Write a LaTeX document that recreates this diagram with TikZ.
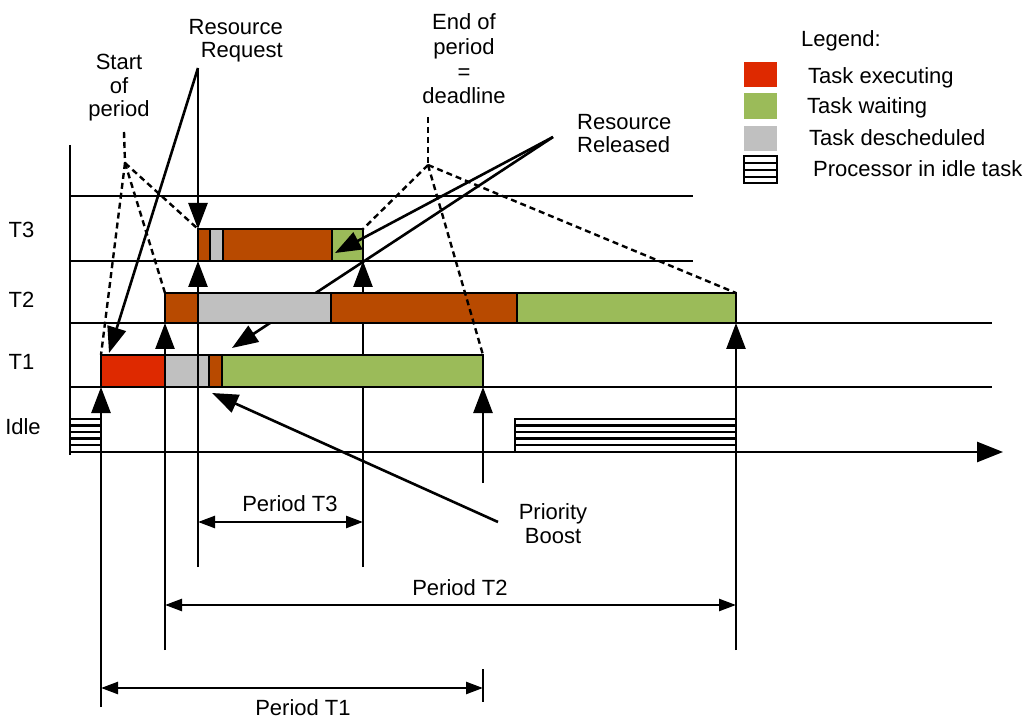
\documentclass[tikz,border=0pt]{standalone}
\usepackage{fontspec}
\setmainfont{Liberation Sans}
\usetikzlibrary{arrows.meta}

\definecolor{execc}{RGB}{222,41,0}
\definecolor{heldc}{RGB}{184,74,0}
\definecolor{waitc}{RGB}{155,187,89}
\definecolor{deschc}{RGB}{192,192,192}

\tikzset{
  lbl/.style={inner sep=0pt, font=\fontsize{22}{24}\selectfont},
  gridline/.style={line width=2.6pt},
  bigarrow/.style={line width=2.6pt, -{Triangle[length=26pt,width=19pt]}},
  dimarrow/.style={line width=2.4pt, {Triangle[length=17pt,width=12pt]}-{Triangle[length=17pt,width=12pt]}},
  guide/.style={line width=2.4pt, dash pattern=on 6pt off 4pt},
  seg/.style={draw=black, line width=2.4pt},
  hatchline/.style={line width=2.2pt},
}

\begin{document}
\begin{tikzpicture}[x=1pt,y=-1pt]
\useasboundingbox (0,0) rectangle (1026,719);

% ---------- time grid ----------
\coordinate (axtop) at (70,145);
\coordinate (axbot) at (70,455);
\coordinate (axO) at (70,452);
\coordinate (axEnd) at (1003,452);
\draw[gridline] (axtop) -- (axbot);
\foreach \yy/\xe in {196/693,261/693,323/992,387/992}
  \draw[gridline] (70,\yy) coordinate (gl\yy) -- (\xe,\yy) coordinate (gr\yy);
\draw[gridline, -{Triangle[length=26pt,width=20pt]}] (axO) -- (axEnd);

% row labels
\node[lbl, anchor=base] (lT3) at (21.5,238) {T3};
\node[lbl, anchor=base] (lT2) at (21.5,308) {T2};
\node[lbl, anchor=base] (lT1) at (21.5,370) {T1};
\node[lbl, anchor=base] (lIdle) at (23,434) {Idle};

% ---------- idle task periods ----------
\draw[seg, fill=white] (70,419) rectangle (101,452);
\foreach \yy in {425.5,432,438.5,445} \draw[hatchline] (70,\yy) -- (101,\yy);
\draw[seg, fill=white] (515,419) rectangle (736,452);
\foreach \yy in {425.5,432,438.5,445} \draw[hatchline] (515,\yy) -- (736,\yy);

% ---------- period markers (release / deadline) ----------
\coordinate (s1b) at (101,707); \coordinate (s1t) at (101,387);
\coordinate (s2b) at (165,650); \coordinate (s2t) at (165,323);
\coordinate (s3b) at (198,567); \coordinate (s3t) at (198,261);
\coordinate (e3b) at (363,567); \coordinate (e3t) at (363,261);
\coordinate (e1b) at (483,483); \coordinate (e1t) at (483,387);
\coordinate (e2b) at (736,650); \coordinate (e2t) at (736,323);
\foreach \a/\b in {s1b/s1t,s2b/s2t,s3b/s3t,e3b/e3t,e1b/e1t,e2b/e2t}
  \draw[bigarrow] (\a) -- (\b);

% resource released (lower arrow runs behind T2)
\coordinate (rr) at (553,137);
\coordinate (rrT1) at (232,348);
\draw[bigarrow] (rr) -- (rrT1);

% ---------- task bars ----------
% T3
\draw[seg, fill=heldc]  (198,229) rectangle (210,261);
\draw[seg, fill=deschc] (210,229) rectangle (223,261);
\draw[seg, fill=heldc]  (223,229) rectangle (332,261);
\draw[seg, fill=waitc]  (332,229) rectangle (363,261);
% T2
\draw[seg, fill=heldc]  (165,293) rectangle (198,323);
\draw[seg, fill=deschc] (198,293) rectangle (331,323);
\draw[seg, fill=heldc]  (331,293) rectangle (517,323);
\draw[seg, fill=waitc]  (517,293) rectangle (736,323);
% T1
\draw[seg, fill=execc]  (101,355) rectangle (165,387);
\draw[seg, fill=deschc] (165,355) rectangle (198,387);
\draw[seg, fill=deschc] (198,355) rectangle (209,387);
\draw[seg, fill=heldc]  (209,355) rectangle (222,387);
\draw[seg, fill=waitc]  (222,355) rectangle (483,387);

% ---------- dashed guides ----------
\coordinate (spTop) at (124,132);
\coordinate (spJ) at (125,163);
\draw[guide] (spTop) -- (spJ);
\draw[guide] (spJ) -- (198,229);
\draw[guide] (spJ) -- (165,293);
\draw[guide] (spJ) -- (101,355);
\coordinate (epTop) at (428,117);
\coordinate (epJ) at (428,165);
\draw[guide] (epTop) -- (epJ);
\draw[guide] (epJ) -- (363,229);
\draw[guide] (epJ) -- (483,355);
\draw[guide] (epJ) -- (736,293);

% ---------- annotation arrows ----------
\coordinate (rq) at (198,68);
\coordinate (rqT3) at (198,229);
\coordinate (rqT1) at (109,353);
\draw[bigarrow] (rq) -- (rqT3);
\draw[bigarrow] (rq) -- (rqT1);
\coordinate (rrT3) at (335,253);
\draw[bigarrow] (rr) -- (rrT3);
\coordinate (pb) at (498,522);
\coordinate (pbT1) at (212,393);
\draw[bigarrow] (pb) -- (pbT1);

% ---------- period dimensions ----------
\draw[dimarrow] (198,522) coordinate (p3a) -- (363,522) coordinate (p3b);
\draw[dimarrow] (165,605) coordinate (p2a) -- (736,605) coordinate (p2b);
\draw[dimarrow] (101,688) coordinate (p1a) -- (483,688) coordinate (p1b);
\draw[gridline] (483,669) coordinate (tk1) -- (483,702) coordinate (tk2);
\node[lbl, anchor=base] (nP3) at (290,511) {Period T3};
\node[lbl, anchor=base] (nP2) at (460,595) {Period T2};
\node[lbl, anchor=base] (nP1) at (303,715) {Period T1};

% ---------- annotation texts (anchored at the last line's baseline) ----------
\node[lbl, anchor=base, align=center, font=\fontsize{22}{23.5}\selectfont] (nStart) at (119,117) {Start\\of\\period};
\node[lbl, anchor=base east, align=right, font=\fontsize{22}{23}\selectfont] (nReq) at (283,58) {Resource\\Request};
\node[lbl, anchor=base, align=center, font=\fontsize{22}{24.7}\selectfont] (nEnd) at (464,104) {End of\\period\\=\\deadline};
\node[lbl, anchor=base west, align=left, font=\fontsize{22}{23}\selectfont] (nRel) at (577,153) {Resource\\Released};
\node[lbl, anchor=base, align=center, font=\fontsize{22}{24}\selectfont] (nBoost) at (553,543) {Priority\\Boost};

% ---------- legend ----------
\node[lbl, anchor=base] (lgTitle) at (841,47) {Legend:};
\fill[execc]  (744,62) rectangle (777,87);
\fill[waitc]  (744,93) rectangle (777,119);
\fill[deschc] (744,126) rectangle (777,151);
\draw[seg, fill=white] (744,156) rectangle (777,183);
\foreach \yy in {163,170,177} \draw[hatchline] (744,\yy) -- (777,\yy);
\node[lbl, anchor=base west] (lgExec) at (808,84) {Task executing};
\node[lbl, anchor=base west] (lgWait) at (807,114) {Task waiting};
\node[lbl, anchor=base west] (lgDesc) at (809,146) {Task descheduled};
\node[lbl, anchor=base west] (lgIdle) at (813,177) {Processor in idle task};
\end{tikzpicture}
\end{document}
